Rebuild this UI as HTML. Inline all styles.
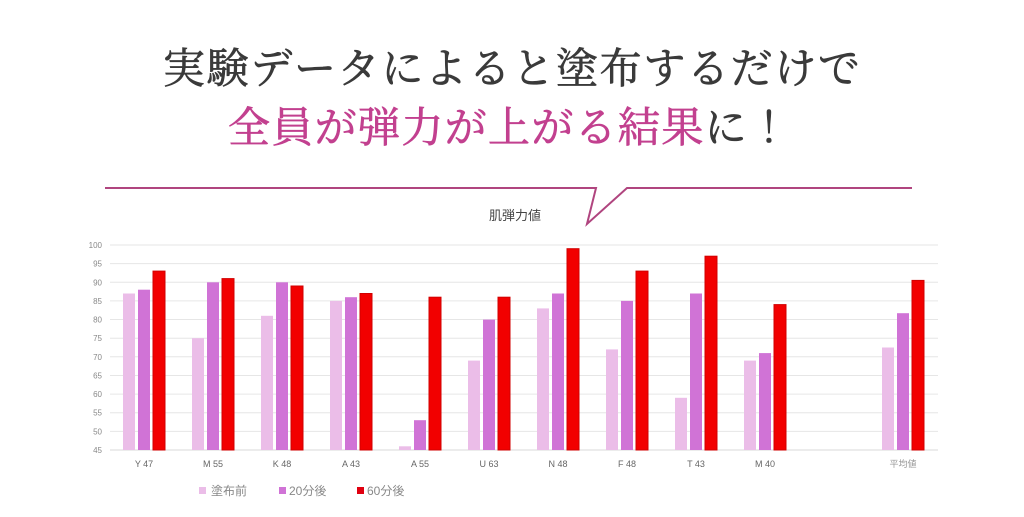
<!DOCTYPE html>
<html><head><meta charset="utf-8"><style>
html,body{margin:0;padding:0;background:#fff;}
svg{display:block}
</style></head><body>
<svg width="1024" height="517" viewBox="0 0 1024 517" xmlns="http://www.w3.org/2000/svg">
<rect width="1024" height="517" fill="#fff"/>
<g font-family="'Noto Serif CJK JP','Noto Serif CJK SC',serif" font-size="42">
<text x="163" y="83" fill="#3a3a3a" stroke="#3a3a3a" stroke-width="0.7" textLength="697" lengthAdjust="spacing">実験データによると塗布するだけで</text>
<text x="228" y="142" fill="#c2408f" stroke="#c2408f" stroke-width="0.7" textLength="562" lengthAdjust="spacing">全員が弾力が上がる結果<tspan fill="#3a3a3a" stroke="#3a3a3a">に！</tspan></text>
</g>
<polyline points="105,188 596,188 587,224 627,188 912,188" fill="none" stroke="#b0457f" stroke-width="2"/>
<text x="515" y="220" font-family="'Liberation Sans','Noto Sans CJK JP',sans-serif" font-size="13" fill="#444" text-anchor="middle">肌弾力値</text>
<g stroke="#e6e6e6" stroke-width="1">
<line x1="110" x2="938" y1="245" y2="245"/><line x1="110" x2="938" y1="263.6" y2="263.6"/>
<line x1="110" x2="938" y1="282.3" y2="282.3"/><line x1="110" x2="938" y1="300.9" y2="300.9"/>
<line x1="110" x2="938" y1="319.5" y2="319.5"/><line x1="110" x2="938" y1="338.2" y2="338.2"/>
<line x1="110" x2="938" y1="356.8" y2="356.8"/><line x1="110" x2="938" y1="375.5" y2="375.5"/>
<line x1="110" x2="938" y1="394.1" y2="394.1"/><line x1="110" x2="938" y1="412.7" y2="412.7"/>
<line x1="110" x2="938" y1="431.4" y2="431.4"/><line x1="110" x2="938" y1="450" y2="450" stroke="#d8d8d8"/>
</g>
<g font-family="'Liberation Sans',sans-serif" font-size="8" fill="#888" text-anchor="end">
<text x="102" y="248">100</text><text x="102" y="266.6">95</text><text x="102" y="285.3">90</text>
<text x="102" y="303.9">85</text><text x="102" y="322.5">80</text><text x="102" y="341.2">75</text>
<text x="102" y="359.8">70</text><text x="102" y="378.5">65</text><text x="102" y="397.1">60</text>
<text x="102" y="415.7">55</text><text x="102" y="434.4">50</text><text x="102" y="453">45</text>
</g>
<g>
<g fill="#ebbde8">
<rect x="123" y="293.5" width="12" height="156.5"/><rect x="192" y="338.2" width="12" height="111.8"/>
<rect x="261" y="315.8" width="12" height="134.2"/><rect x="330" y="300.9" width="12" height="149.1"/>
<rect x="399" y="446.3" width="12" height="3.7"/><rect x="468" y="360.6" width="12" height="89.4"/>
<rect x="537" y="308.4" width="12" height="141.6"/><rect x="606" y="349.4" width="12" height="100.6"/>
<rect x="675" y="397.8" width="12" height="52.2"/><rect x="744" y="360.6" width="12" height="89.4"/>
<rect x="882" y="347.5" width="12" height="102.5"/>
</g>
<g fill="#d073d6">
<rect x="138" y="289.7" width="12" height="160.3"/><rect x="207" y="282.3" width="12" height="167.7"/>
<rect x="276" y="282.3" width="12" height="167.7"/><rect x="345" y="297.2" width="12" height="152.8"/>
<rect x="414" y="420.2" width="12" height="29.8"/><rect x="483" y="319.6" width="12" height="130.4"/>
<rect x="552" y="293.5" width="12" height="156.5"/><rect x="621" y="300.9" width="12" height="149.1"/>
<rect x="690" y="293.5" width="12" height="156.5"/><rect x="759" y="353.1" width="12" height="96.9"/>
<rect x="897" y="313.2" width="12" height="136.8"/>
</g>
<g fill="#f20000" stroke="#d10000" stroke-width="1">
<rect x="153" y="271.1" width="12" height="178.9"/><rect x="222" y="278.6" width="12" height="171.4"/>
<rect x="291" y="286" width="12" height="164"/><rect x="360" y="293.5" width="12" height="156.5"/>
<rect x="429" y="297.2" width="12" height="152.8"/><rect x="498" y="297.2" width="12" height="152.8"/>
<rect x="567" y="248.7" width="12" height="201.3"/><rect x="636" y="271.1" width="12" height="178.9"/>
<rect x="705" y="256.2" width="12" height="193.8"/><rect x="774" y="304.6" width="12" height="145.4"/>
<rect x="912" y="280.4" width="12" height="169.6"/>
</g>
</g>
<g font-family="'Liberation Sans','Noto Sans CJK JP',sans-serif" font-size="9" fill="#666" text-anchor="middle">
<text x="144" y="467">Y 47</text><text x="213" y="467">M 55</text><text x="282" y="467">K 48</text>
<text x="351" y="467">A 43</text><text x="420" y="467">A 55</text><text x="489" y="467">U 63</text>
<text x="558" y="467">N 48</text><text x="627" y="467">F 48</text><text x="696" y="467">T 43</text>
<text x="765" y="467">M 40</text><text x="903" y="467" fill="#999">平均値</text>
</g>
<g font-family="'Liberation Sans','Noto Sans CJK JP',sans-serif" font-size="12" fill="#888">
<rect x="199" y="487" width="7" height="7" fill="#ebbde8"/><text x="211" y="495">塗布前</text>
<rect x="279" y="487" width="7" height="7" fill="#d073d6"/><text x="289" y="495">20分後</text>
<rect x="357" y="487" width="7" height="7" fill="#e00010"/><text x="367" y="495">60分後</text>
</g>
</svg>
</body></html>
